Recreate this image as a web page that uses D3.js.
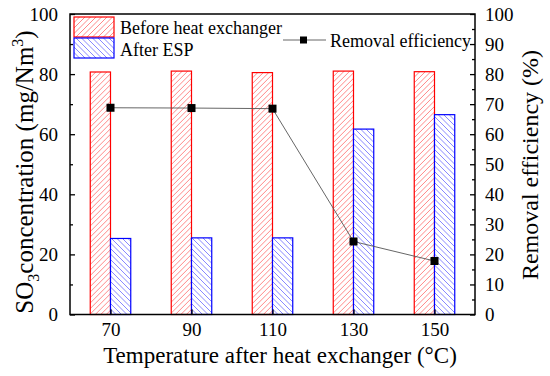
<!DOCTYPE html>
<html><head><meta charset="utf-8">
<script src="https://cdn.jsdelivr.net/npm/d3@7"></script>
<style>body{margin:0;background:#fff}svg{display:block}text{font-family:"Liberation Serif","Times New Roman",serif;fill:#000}</style>
</head><body><svg id="c" width="550" height="376"></svg>
<script>
const categories = [70, 90, 110, 130, 150];
const beforeHX = [80.7, 81.0, 80.5, 81.0, 80.8];
const afterESP = [25.3, 25.5, 25.5, 61.7, 66.5];
const removalEff = [68.8, 68.7, 68.5, 24.3, 17.8];
const leftTicks = [0, 20, 40, 60, 80, 100];
const rightTicks = [0,10,20,30,40,50,60,70,80,90,100];

const svg = d3.select("#c");
const m = {l:70, r:475, t:14, b:314.5};
const x = d3.scaleLinear().domain([60,160]).range([m.l, m.r]);
const yL = d3.scaleLinear().domain([0,100]).range([m.b, m.t]);
const yR = d3.scaleLinear().domain([0,100]).range([m.b, m.t]);
const bw = 5;
const defs = svg.append("defs");
let clipN = 0;

function hatchedRect(parent, x0, y0, w, h, lineColor, edgeColor, dir){
  const id = "clip" + (clipN++);
  defs.append("clipPath").attr("id", id).append("rect")
    .attr("x", x0).attr("y", y0).attr("width", w).attr("height", h);
  const gg = parent.append("g");
  gg.append("rect").attr("x", x0).attr("y", y0).attr("width", w).attr("height", h).attr("fill", "#fff");
  const hl = gg.append("g").attr("clip-path", `url(#${id})`);
  const s = 5.5;
  const path = d3.path();
  for(let t = -h; t < w + s; t += s){
    if(dir > 0){ path.moveTo(x0 + t, y0 + h); path.lineTo(x0 + t + h, y0); }
    else { path.moveTo(x0 + t, y0); path.lineTo(x0 + t + h, y0 + h); }
  }
  hl.append("path").attr("d", path.toString()).attr("stroke", lineColor)
    .attr("stroke-width", 0.8).attr("fill", "none");
  gg.append("rect").attr("x", x0).attr("y", y0).attr("width", w).attr("height", h)
    .attr("fill", "none").attr("stroke", edgeColor).attr("stroke-width", 1.2);
}

const g = svg.append("g");
categories.forEach((c, i) => {
  hatchedRect(g, x(c - bw), yL(beforeHX[i]), x(c) - x(c - bw), yL(0) - yL(beforeHX[i]), "#ff6a6a", "#ff0000", 1);
  hatchedRect(g, x(c), yL(afterESP[i]), x(c + bw) - x(c), yL(0) - yL(afterESP[i]), "#6a6aff", "#0000ff", -1);
});

const line = d3.line().x((d,i) => x(categories[i])).y(d => yR(d));
svg.append("path").datum(removalEff).attr("d", line).attr("fill","none")
  .attr("stroke", "#555").attr("stroke-width", 0.9);
svg.selectAll("rect.pt").data(removalEff).join("rect").attr("class","pt")
  .attr("x", (d,i) => x(categories[i]) - 4).attr("y", d => yR(d) - 4)
  .attr("width", 8).attr("height", 8).attr("fill", "#000");

svg.append("rect").attr("x", m.l).attr("y", m.t).attr("width", m.r - m.l).attr("height", m.b - m.t)
  .attr("fill","none").attr("stroke","#000").attr("stroke-width", 1.5);

const FONT = '"Liberation Serif", "Times New Roman", serif';
function styleAxis(sel){ sel.attr("font-family", FONT).attr("font-size", 19); }
svg.append("g").attr("transform", `translate(0,${m.b})`)
  .call(d3.axisBottom(x).tickValues(categories).tickSize(-5).tickPadding(8).tickFormat(d3.format("d"))).call(styleAxis);
svg.append("g").attr("transform", `translate(${m.l},0)`)
  .call(d3.axisLeft(yL).tickValues(leftTicks).tickSize(-5).tickPadding(12)).call(styleAxis);
svg.append("g").attr("transform", `translate(${m.l},0)`)
  .call(d3.axisLeft(yL).tickValues([10,30,50,70,90]).tickSize(-3).tickFormat(""));
svg.append("g").attr("transform", `translate(${m.r},0)`)
  .call(d3.axisRight(yR).tickValues(rightTicks).tickSize(-5).tickPadding(10)).call(styleAxis);
svg.append("g").attr("transform", `translate(${m.r},0)`)
  .call(d3.axisRight(yR).tickValues(d3.range(5,100,10)).tickSize(-3).tickFormat(""));
svg.selectAll(".domain").remove();
svg.selectAll(".tick line").attr("stroke","#000").attr("stroke-width",1.3);
svg.selectAll(".tick text").style("font-family", FONT).style("font-size", "19px");

svg.append("text").attr("x", 280).attr("y", 363).attr("text-anchor","middle")
  .style("font-size","23px").text("Temperature after heat exchanger (°C)");
const lt = svg.append("text").attr("transform", `translate(33,${172}) rotate(-90)`)
  .attr("text-anchor","middle").style("font-size","25px");
lt.append("tspan").text("SO");
lt.append("tspan").attr("dy", 6).style("font-size","16px").text("3");
lt.append("tspan").attr("dy", -6).text("concentration (mg/Nm");
lt.append("tspan").attr("dy", -10).style("font-size","16px").text("3");
lt.append("tspan").attr("dy", 10).text(")");
svg.append("text").attr("transform", `translate(538,${165}) rotate(-90)`)
  .attr("text-anchor","middle").style("font-size","24px").text("Removal efficiency (%)");

const lg = svg.append("g");
hatchedRect(lg, 74, 17, 40, 20, "#ff6a6a", "#ff0000", 1);
hatchedRect(lg, 74, 38, 40, 20, "#6a6aff", "#0000ff", -1);
lg.append("text").attr("x",120).attr("y",34).style("font-size","18px").text("Before heat exchanger");
lg.append("text").attr("x",120).attr("y",56).style("font-size","18px").text("After ESP");
lg.append("line").attr("x1",283).attr("x2",326).attr("y1",40).attr("y2",40).attr("stroke","#555").attr("stroke-width",0.9);
lg.append("rect").attr("x",300).attr("y",36.5).attr("width",7).attr("height",7).attr("fill","#000");
lg.append("text").attr("x",330).attr("y",47).style("font-size","18px").text("Removal efficiency");
</script></body></html>
